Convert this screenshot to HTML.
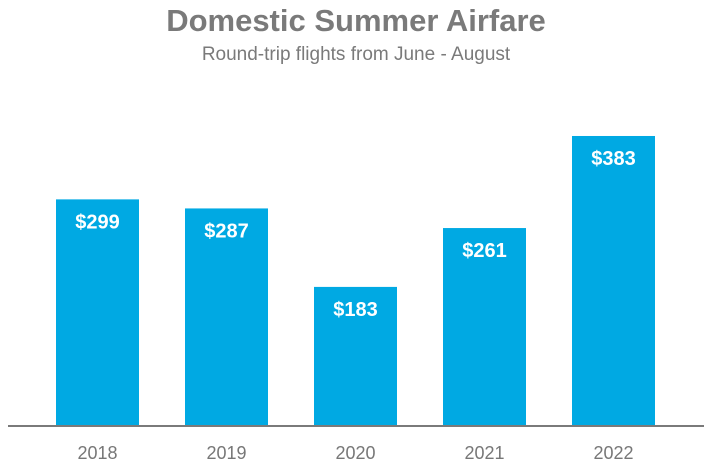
<!DOCTYPE html>
<html><head><meta charset="utf-8"><style>
body{margin:0;width:712px;height:468px;background:#fff;overflow:hidden}
svg{display:block}
</style></head><body>
<svg width="712" height="468">
<text x="356" y="31" text-anchor="middle" font-family="Liberation Sans, sans-serif" font-weight="bold" font-size="31" fill="#7a7a7a">Domestic Summer Airfare</text>
<text x="356" y="60" text-anchor="middle" font-family="Liberation Sans, sans-serif" font-size="19" fill="#7a7a7a">Round-trip flights from June - August</text>
<g id="bars"></g>
<line x1="8" y1="426" x2="704" y2="426" stroke="#7a7a7a" stroke-width="2"/>
</svg>
<script>
const categories = ["2018","2019","2020","2021","2022"];
const values = [299,287,183,261,383];
const valueLabels = ["$299","$287","$183","$261","$383"];
const baseY = 425, pxPerUnit = 0.7546, x0 = 56, step = 129, bw = 83;
const xPos = i => x0 + i * step;
const yPos = v => baseY - v * pxPerUnit;
const g = document.getElementById('bars');
const NS = 'http://www.w3.org/2000/svg';
categories.forEach((c, i) => {
  const r = document.createElementNS(NS, 'rect');
  
  
  r.setAttribute('x', xPos(i));
  r.setAttribute('y', yPos(values[i]));
  r.setAttribute('width', bw);
  r.setAttribute('height', baseY - yPos(values[i]));
  r.setAttribute('fill', '#00a9e3');
  g.appendChild(r);
  const t = document.createElementNS(NS, 'text');
  
  
  t.setAttribute('x', xPos(i) + bw / 2);
  t.setAttribute('y', yPos(values[i]) + 29);
  t.setAttribute('text-anchor', 'middle');
  t.setAttribute('font-family', 'Liberation Sans, sans-serif');
  t.setAttribute('font-weight', 'bold');
  t.setAttribute('font-size', '20');
  t.setAttribute('fill', '#fff');
  t.textContent = valueLabels[i];
  g.appendChild(t);
  const l = document.createElementNS(NS, 'text');
  
  
  l.setAttribute('x', xPos(i) + bw / 2);
  l.setAttribute('y', 459);
  l.setAttribute('text-anchor', 'middle');
  l.setAttribute('font-family', 'Liberation Sans, sans-serif');
  l.setAttribute('font-size', '18');
  l.setAttribute('fill', '#777');
  l.textContent = c;
  g.appendChild(l);
});
</script>
</body></html>
